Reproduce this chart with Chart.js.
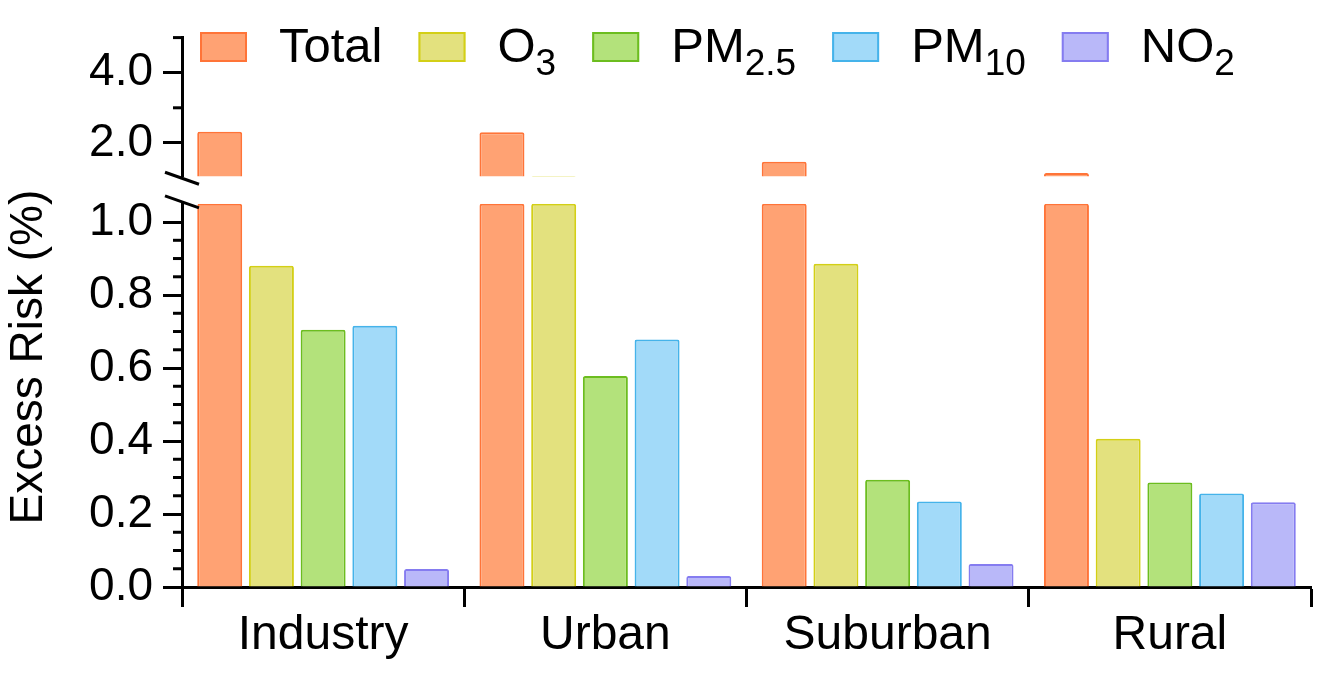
<!DOCTYPE html>
<html><head><meta charset="utf-8">
<script src="https://cdn.jsdelivr.net/npm/chart.js@4.4.1/dist/chart.umd.min.js"></script>
<style>html,body{margin:0;padding:0;background:#fff;overflow:hidden}#wrap{width:1325px;height:677px}</style>
</head><body><div id="wrap"><canvas id="c" width="1325" height="677"></canvas></div>
<script>
// ---------- data ----------
const categories = ['Industry', 'Urban', 'Suburban', 'Rural'];
const seriesNames = ['Total', 'O3', 'PM2.5', 'PM10', 'NO2'];
const legendBase = ['Total', 'O', 'PM', 'PM', 'NO'];
const legendSub = ['', '3', '2.5', '10', '2'];
const totalValues = [2.32, 2.30, 1.46, 1.14];
const o3Values = [0.880, 1.055, 0.886, 0.406];
const pm25Values = [0.705, 0.578, 0.294, 0.286];
const pm10Values = [0.716, 0.678, 0.234, 0.256];
const no2Values = [0.049, 0.030, 0.063, 0.232];
const lowerTicks = [0.0, 0.2, 0.4, 0.6, 0.8, 1.0];
const upperTicks = [2.0, 4.0];
const upperMinorTicks = [3.0, 5.0];
const yTitle = 'Excess Risk (%)';
const lowerMax = 1.05;
const upperMin = 1.05;
const upperMax = 5.0;

// ---------- styles ----------
const fills = ['#FFA273', '#E3E17E', '#B3E27B', '#A2DAF9', '#B9B8F9'];
const borders = ['#FF7438', '#D3CF16', '#6CBD1F', '#45B3EA', '#857CF0'];
const FONT = '"Liberation Sans", Arial, Helvetica, sans-serif';

const seriesValues = [totalValues, o3Values, pm25Values, pm10Values, no2Values];
const datasets = [];
seriesValues.forEach((vals, i) => {
  datasets.push({
    label: seriesNames[i], stack: 's' + i, yAxisID: 'yLow',
    data: vals.map(v => Math.min(v, lowerMax)),
    backgroundColor: fills[i], borderColor: borders[i], borderWidth: 2,
    borderSkipped: 'start', borderRadius: 2
  });
});
seriesValues.forEach((vals, i) => {
  datasets.push({
    label: seriesNames[i] + ' (upper)', stack: 's' + i, yAxisID: 'yHigh',
    data: vals.map(v => (v > upperMin ? v : null)),
    backgroundColor: fills[i], borderColor: borders[i], borderWidth: 2,
    borderSkipped: false, borderRadius: 2
  });
});

const decor = {
  id: 'decor',
  afterDraw(chart) {
    const ctx = chart.ctx;
    const lo = chart.scales.yLow, hi = chart.scales.yHigh;
    const ax = lo.right;
    ctx.save();
    ctx.strokeStyle = '#000';
    ctx.lineWidth = 3;
    ctx.lineCap = 'butt';
    // minor ticks
    for (let k = 1; k <= 20; k++) {
      const v = k * 0.05;
      if (lowerTicks.some(m => Math.abs(m - v) < 1e-6)) continue;
      const y = lo.getPixelForValue(v);
      ctx.beginPath(); ctx.moveTo(ax - 9, y); ctx.lineTo(ax + 1, y); ctx.stroke();
    }
    upperMinorTicks.forEach(v => {
      const y = hi.getPixelForValue(v);
      ctx.beginPath(); ctx.moveTo(ax - 9, y); ctx.lineTo(ax + 1, y); ctx.stroke();
    });
    // break marks
    const mark = (yc) => {
      ctx.beginPath(); ctx.moveTo(ax - 17, yc - 6); ctx.lineTo(ax + 17, yc + 6); ctx.stroke();
    };
    mark(hi.bottom + 2);
    mark(lo.top - 2);
    // y-axis title
    ctx.fillStyle = '#000';
    ctx.font = '46px ' + FONT;
    ctx.textAlign = 'center';
    ctx.textBaseline = 'middle';
    ctx.translate(29, lo.top + (lo.bottom - lo.top) * 0.4);
    ctx.rotate(-Math.PI / 2);
    ctx.fillText(yTitle, 0, 0);
    ctx.restore();

    // legend
    ctx.save();
    let x = chart.chartArea.left + 18;
    const boxTop = 32, boxW = 47, boxH = 30, base = 62;
    for (let i = 0; i < seriesNames.length; i++) {
      ctx.fillStyle = fills[i];
      ctx.strokeStyle = borders[i];
      ctx.lineWidth = 2;
      ctx.fillRect(x, boxTop, boxW, boxH);
      ctx.strokeRect(x + 1, boxTop + 1, boxW - 2, boxH - 2);
      x += boxW + 32;
      ctx.fillStyle = '#000';
      ctx.textAlign = 'left';
      ctx.textBaseline = 'alphabetic';
      ctx.font = '49px ' + FONT;
      ctx.fillText(legendBase[i], x, base);
      x += ctx.measureText(legendBase[i]).width;
      if (legendSub[i]) {
        ctx.font = '37px ' + FONT;
        ctx.fillText(legendSub[i], x, base + 13);
        x += ctx.measureText(legendSub[i]).width;
      }
      x += 36;
    }
    ctx.restore();
  }
};

const tickFont = { family: FONT, size: 46 };

new Chart(document.getElementById('c'), {
  type: 'bar',
  data: { labels: categories, datasets },
  options: {
    responsive: false,
    animation: false,
    events: [],
    layout: { padding: { top: 34.6, right: 14, bottom: 0, left: 0 } },
    datasets: { bar: { barPercentage: 0.87, categoryPercentage: 0.916 } },
    plugins: { legend: { display: false }, tooltip: { enabled: false } },
    scales: {
      x: {
        type: 'category', offset: true,
        grid: { offset: true, drawOnChartArea: false, drawTicks: true, tickLength: 20, tickWidth: 3, tickColor: '#000' },
        border: { display: true, color: '#000', width: 3 },
        ticks: { color: '#000', font: { family: FONT, size: 48 }, padding: 0, maxRotation: 0, autoSkip: false },
        afterFit: s => { s.height = 90; }
      },
      yLow: {
        type: 'linear', position: 'left', stack: 'y', stackWeight: 385.3, weight: 1,
        min: 0, max: lowerMax, stacked: false,
        afterBuildTicks: s => { s.ticks = lowerTicks.map(v => ({ value: v })); },
        ticks: { color: '#000', font: tickFont, padding: 10, autoSkip: false, callback: v => Number(v).toFixed(1) },
        grid: { drawOnChartArea: false, drawTicks: true, tickLength: 19, tickWidth: 3, tickColor: '#000' },
        border: { display: true, color: '#000', width: 3 },
        afterFit: s => { s.width = 182; }
      },
      yGap: {
        type: 'linear', position: 'left', stack: 'y', stackWeight: 27.7, weight: 2,
        min: 0, max: 1,
        ticks: { display: false },
        grid: { display: false, drawTicks: false },
        border: { display: false },
        afterFit: s => { s.width = 182; }
      },
      yHigh: {
        type: 'linear', position: 'left', stack: 'y', stackWeight: 139.4, weight: 3,
        min: upperMin, max: upperMax, stacked: false,
        afterBuildTicks: s => { s.ticks = upperTicks.map(v => ({ value: v })); },
        ticks: { color: '#000', font: tickFont, padding: 10, autoSkip: false, callback: v => Number(v).toFixed(1) },
        grid: { drawOnChartArea: false, drawTicks: true, tickLength: 19, tickWidth: 3, tickColor: '#000' },
        border: { display: true, color: '#000', width: 3 },
        afterFit: s => { s.width = 182; }
      }
    }
  },
  plugins: [decor]
});
</script>
</body></html>
